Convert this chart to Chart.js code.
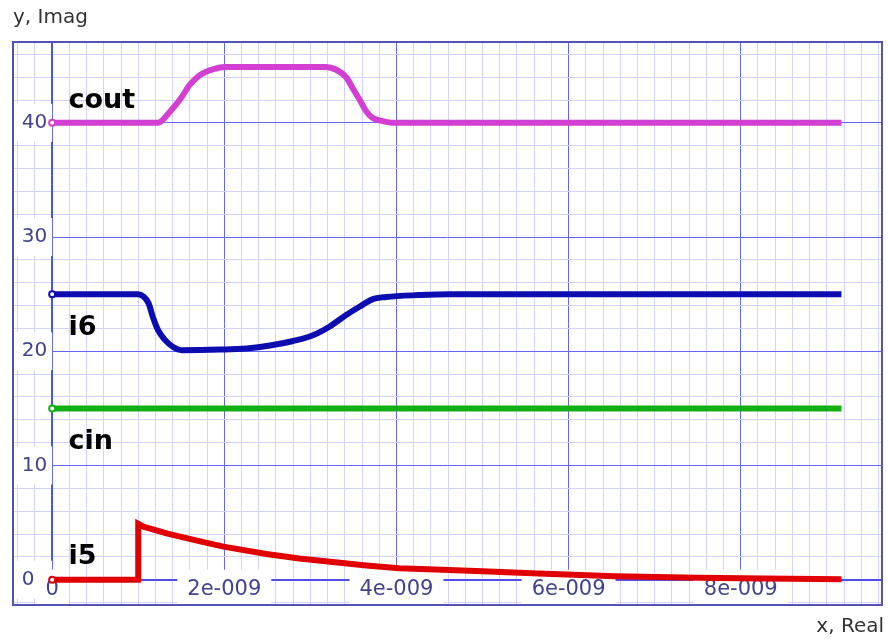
<!DOCTYPE html>
<html>
<head>
<meta charset="utf-8">
<script src="https://cdn.jsdelivr.net/npm/chart.js@4.4.1/dist/chart.umd.min.js"></script>
<style>
  body { margin: 0; background: #ffffff; }
  canvas { display: block; }
</style>
</head>
<body>
<canvas id="plot" width="888" height="639"></canvas>
<script>
// --- Data (x in ns) ---
const coutX = [0, 1.23, 1.37, 1.50, 1.60, 1.72, 1.83, 1.95, 2.0, 3.18, 3.30, 3.42, 3.49, 3.57, 3.65, 3.72, 3.84, 3.96, 9.17];
const coutY = [40, 40, 41.0, 42.2, 43.35, 44.2, 44.6, 44.85, 44.9, 44.9, 44.65, 43.95, 43.05, 42.05, 41.0, 40.45, 40.15, 40, 40];

const i6X = [0, 1.0, 1.06, 1.12, 1.17, 1.23, 1.31, 1.41, 1.50, 1.95, 2.26, 2.53, 2.80, 3.03, 3.22, 3.42, 3.57, 3.72, 3.88, 4.26, 4.61, 9.17];
const i6Y = [25, 25, 24.8, 24.2, 23.0, 21.85, 21.0, 20.35, 20.1, 20.15, 20.25, 20.5, 20.9, 21.4, 22.15, 23.2, 23.9, 24.55, 24.75, 24.92, 25, 25];

const cinX = [0, 9.17];
const cinY = [15, 15];

const i5X = [0, 1.0, 1.0, 1.06, 1.33, 1.72, 1.99, 2.49, 2.87, 3.26, 3.65, 4.03, 4.61, 5.0, 5.65, 6.54, 7.5, 8.28, 9.17];
const i5Y = [0, 0, 4.9, 4.65, 4.05, 3.35, 2.9, 2.25, 1.85, 1.55, 1.25, 1.0, 0.85, 0.75, 0.55, 0.3, 0.18, 0.1, 0.05];

const xTickValues = [0, 2, 4, 6, 8];
const xTickLabels = ['0', '2e-009', '4e-009', '6e-009', '8e-009'];
const yTickValues = [0, 10, 20, 30, 40];
const yTickLabels = ['0', '10', '20', '30', '40'];

const toPoints = (xs, ys) => xs.map((x, i) => ({ x: x, y: ys[i] }));

const MINOR = '#d2d2ff';
const MAJOR = '#6464ff';
const LABEL_COLOR = '#42428f';

const isNear = (a, b) => Math.abs(a - b) < 1e-6;

// --- Plugin: frame around the plot area ---
const framePlugin = {
    id: 'frame',
    beforeDatasetsDraw(chart) {
        const a = chart.chartArea;
        const ctx = chart.ctx;
        ctx.save();
        ctx.strokeStyle = '#5252b8';
        ctx.lineWidth = 2;
        ctx.strokeRect(a.left, a.top, a.right - a.left, a.bottom - a.top);
        ctx.restore();
    }
};

// --- Plugin: series names next to their lines ---
const seriesNamePlugin = {
    id: 'seriesNames',
    afterDatasetsDraw(chart) {
        const ctx = chart.ctx;
        const xs = chart.scales.x;
        const ys = chart.scales.y;
        ctx.save();
        ctx.font = 'bold 27px "DejaVu Sans"';
        ctx.fillStyle = '#000000';
        ctx.textBaseline = 'alphabetic';
        ctx.textAlign = 'left';
        chart.data.datasets.forEach(ds => {
            const first = ds.data[0];
            const px = xs.getPixelForValue(0.19);
            const py = ys.getPixelForValue(first.y) + ds.nameDy;
            ctx.fillText(ds.label, px, py);
        });
        ctx.restore();
    }
};

const series = (label, xs, ys, color, dy, smooth) => ({
    label: label,
    data: toPoints(xs, ys),
    borderColor: color,
    borderWidth: 6,
    backgroundColor: color,
    fill: false,
    tension: 0,
    cubicInterpolationMode: smooth ? 'monotone' : 'default',
    pointRadius: (c) => c.dataIndex === 0 ? 3 : 0,
    pointBorderWidth: 2,
    pointBorderColor: color,
    pointBackgroundColor: '#ffffff',
    nameDy: dy
});

new Chart(document.getElementById('plot').getContext('2d'), {
    type: 'line',
    data: {
        datasets: [
            series('cout', coutX, coutY, '#d23fd2', -15, true),
            series('i6', i6X, i6Y, '#0c0cb0', 41, true),
            series('cin', cinX, cinY, '#12b012', 41, false),
            series('i5', i5X, i5Y, '#e00000', -16, false)
        ]
    },
    options: {
        responsive: false,
        animation: false,
        devicePixelRatio: 1,
        layout: { padding: { left: 13, right: 4, top: 0, bottom: 0 } },
        plugins: {
            legend: { display: false },
            tooltip: { enabled: false },
            title: {
                display: true,
                text: 'y, Imag',
                align: 'start',
                color: '#333333',
                font: { family: 'DejaVu Sans', size: 20, weight: 'normal', lineHeight: 1.2 },
                padding: { top: 6, bottom: 12 }
            },
            subtitle: {
                display: true,
                text: 'x, Real',
                position: 'bottom',
                align: 'end',
                color: '#333333',
                font: { family: 'DejaVu Sans', size: 20, weight: 'normal', lineHeight: 1.2 },
                padding: { top: 10, bottom: 0 }
            }
        },
        scales: {
            x: {
                type: 'linear',
                position: { y: 0 },
                min: -0.455,
                max: 9.641,
                grid: {
                    z: -2,
                    drawTicks: false,
                    color: (c) => xTickValues.some(v => isNear(v, c.tick.value)) ? MAJOR : MINOR,
                    lineWidth: 1
                },
                border: { z: -1, color: '#5050e6', width: 2 },
                ticks: {
                    z: 0,
                    stepSize: 0.2,
                    includeBounds: false,
                    autoSkip: false,
                    maxRotation: 0,
                    padding: -3,
                    color: LABEL_COLOR,
                    font: { family: 'DejaVu Sans', size: 21 },
                    showLabelBackdrop: true,
                    backdropPadding: { left: 10, right: 10, top: 7, bottom: 5 },
                    backdropColor: (c) => c.tick && c.tick.label !== '' ? '#ffffff' : 'rgba(0,0,0,0)',
                    callback: function (value) {
                        const i = xTickValues.findIndex(v => isNear(v, value));
                        return i >= 0 ? xTickLabels[i] : '';
                    }
                }
            },
            y: {
                type: 'linear',
                position: { x: 0 },
                min: -2.215,
                max: 47.08,
                grid: {
                    z: -2,
                    drawTicks: false,
                    color: (c) => yTickValues.some(v => isNear(v, c.tick.value)) ? MAJOR : MINOR,
                    lineWidth: 1
                },
                border: { z: -1, color: '#5050e6', width: 2 },
                ticks: {
                    // drawn before the x labels so the x "0" stays visible
                    z: -0.5,
                    stepSize: 2,
                    includeBounds: false,
                    autoSkip: false,
                    color: LABEL_COLOR,
                    font: { family: 'DejaVu Sans', size: 20 },
                    showLabelBackdrop: true,
                    backdropPadding: { left: 12, right: 0, top: 7, bottom: 7 },
                    backdropColor: (c) => c.tick && c.tick.label !== '' ? '#ffffff' : 'rgba(0,0,0,0)',
                    callback: function (value) {
                        const i = yTickValues.findIndex(v => isNear(v, value));
                        // keep single digits left-aligned with the two-digit labels, small gap before the axis
                        return i >= 0 ? yTickLabels[i].padEnd(2, '\u2007') + '\u2005' : '';
                    }
                }
            }
        }
    },
    plugins: [framePlugin, seriesNamePlugin]
});
</script>
</body>
</html>
